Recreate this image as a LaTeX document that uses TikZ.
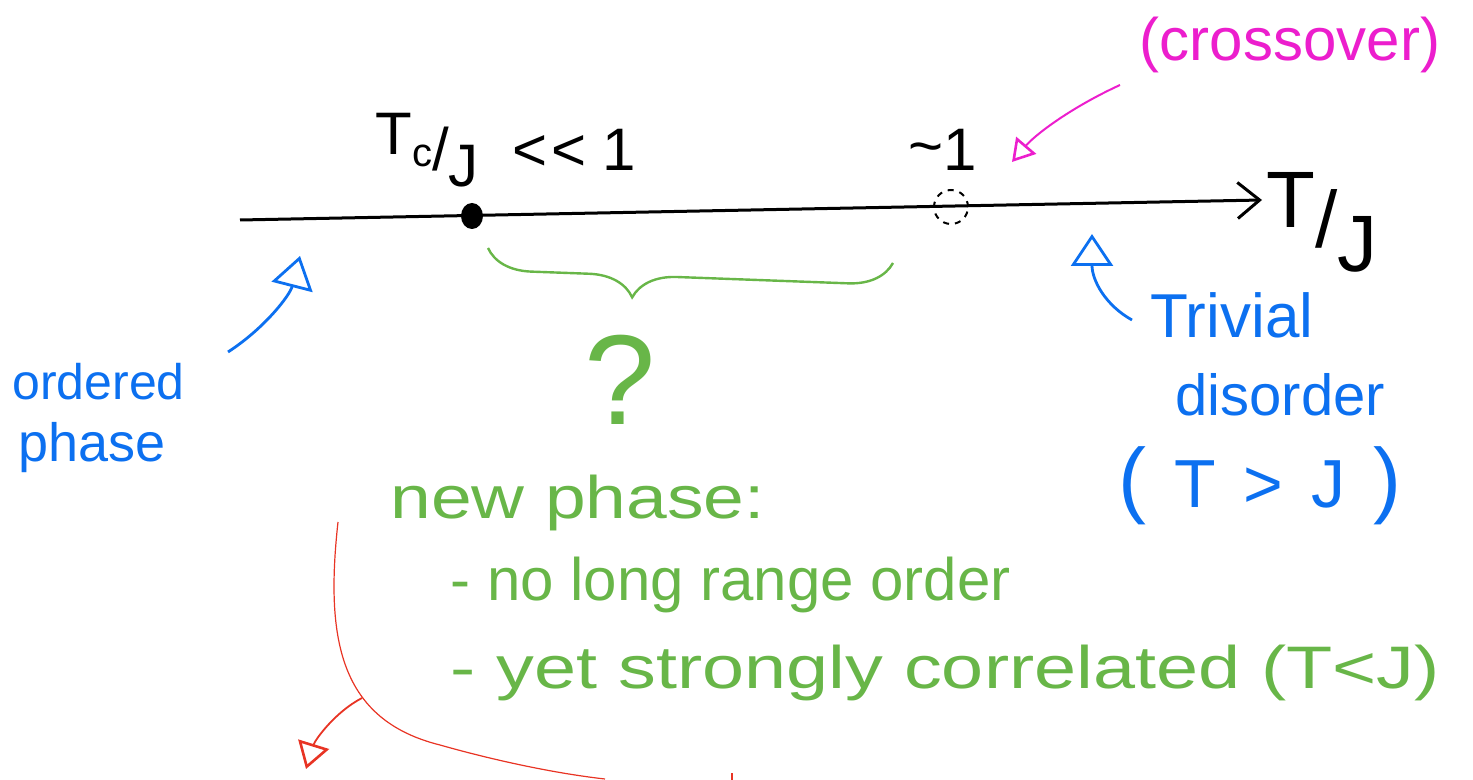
\documentclass[tikz,border=0pt]{standalone}
\usepackage{fontspec}
\setmainfont{Liberation Sans}
\usetikzlibrary{arrows.meta,decorations.pathreplacing,shapes.geometric}
\definecolor{penblue}{RGB}{12,112,240}
\definecolor{pengreen}{RGB}{104,182,72}
\definecolor{penmagenta}{RGB}{236,30,205}
\definecolor{penred}{RGB}{232,52,36}
\tikzset{
  axisline/.style={line width=1.5pt, black, -{Straight Barb[length=11pt,width=18pt,line width=1.5pt]}},
  tcdot/.style={ellipse, fill=black, minimum width=11pt, minimum height=13pt, inner sep=0pt},
  crossdot/.style={circle, draw=black, dashed, line width=1pt, minimum size=17pt, inner sep=0pt},
  blacktext/.style={text=black, inner sep=0pt, font=\fontsize{30}{34}\selectfont},
  bluetext/.style={text=penblue, inner sep=0pt, anchor=base west},
  greentext/.style={text=pengreen, inner sep=0pt, anchor=base west, font=\fontsize{30}{34}\selectfont},
  magtext/.style={text=penmagenta, inner sep=0pt, font=\fontsize{30}{34}\selectfont},
  bluearrow/.style={penblue, line width=1.4pt, -{Triangle[open,length=16pt,width=21pt,line width=1.4pt]}},
  magarrow/.style={penmagenta, line width=1pt, -{Triangle[open,length=11pt,width=13pt,line width=1.3pt]}},
  redarrow/.style={penred, line width=0.9pt, -{Triangle[open,length=13pt,width=16pt,line width=1.3pt]}},
  redline/.style={penred, line width=0.6pt},
  bracestyle/.style={pengreen, line width=1.2pt, decorate, decoration={brace, mirror, amplitude=22pt, aspect=0.36}},
}
\begin{document}
\begin{tikzpicture}[x=0.5pt,y=-0.5pt]
\useasboundingbox (0,0) rectangle (1473,780);
% axis
\coordinate (axL) at (240,220);
\coordinate (axR) at (1262,200);
\draw[axisline] (axL) -- (axR);
\node[tcdot] (tc) at (472,216) {};
\node[crossdot] (cross) at (951,207) {};
\node[blacktext] (tclabel) at (506,150) {\raisebox{8pt}{T}\raisebox{2pt}{\fontsize{20}{20}\selectfont c}/\raisebox{-8pt}{J}\ \ \textless\kern2pt\textless\ 1};
\node[blacktext] (onelabel) at (943,150) {\raisebox{2pt}{\textasciitilde}1};
\node[blacktext, font=\fontsize{40}{44}\selectfont] (tjlabel) at (1322,222) {\raisebox{10pt}{T}/\raisebox{-12pt}{J}};
% crossover
\node[magtext] (crossover) at (1290,45) {(crossover)};
\coordinate (mstart) at (1120,85);
\coordinate (mend) at (1012,162);
\draw[magarrow] (mstart) .. controls (1070,108) and (1035,135) .. (mend);
% brace and question mark
\coordinate (brL) at (488,248);
\coordinate (brR) at (893,263);
\draw[bracestyle] (brL) -- (brR);
\node[text=pengreen, inner sep=0pt, font=\fontsize{64}{68}\selectfont] (qmark) at (620,380) {?};
% ordered phase
\node[bluetext, font=\fontsize{25}{28}\selectfont] (ordered) at (12,400) {ordered};
\node[bluetext, font=\fontsize{27}{30}\selectfont] (phase) at (18,462) {phase};
\coordinate (oaS) at (228,352);
\coordinate (oaE) at (300,256);
\draw[bluearrow] (oaS) .. controls (265,328) and (290,295) .. (oaE);
% trivial disorder
\node[bluetext, font=\fontsize{31}{34}\selectfont] (trivial) at (1150,338) {Trivial};
\node[bluetext, font=\fontsize{29}{32}\selectfont] (disorder) at (1175,416) {disorder};
\node[bluetext, font=\fontsize{34}{36}\selectfont] (tgj) at (1118,508) {{\fontsize{42}{42}\selectfont(}\hspace{14pt}T\hspace{14pt}>\hspace{14pt}J\hspace{14pt}{\fontsize{42}{42}\selectfont)}};
\coordinate (taS) at (1132,320);
\coordinate (taE) at (1092,234);
\draw[bluearrow] (taS) .. controls (1105,305) and (1092,280) .. (taE);
% new phase
\node[greentext, xscale=1.22] (newphase) at (390,518) {new phase:};
\node[greentext] (noorder) at (450,600) {- no long range order};
\node[greentext, xscale=1.26] (correlated) at (450,688) {- yet strongly correlated (T<J)};
% red curve
\coordinate (rS) at (338,522);
\coordinate (rE) at (605,779);
\draw[redline] (rS) .. controls (325,640) and (340,720) .. (440,745) .. controls (500,762) and (560,774) .. (rE);
\coordinate (rtick) at (732,773);
\draw[redline, line width=1pt] (rtick) -- ++(0,8);
\coordinate (raS) at (362,698);
\coordinate (raE) at (306,769);
\draw[redarrow] (raS) .. controls (335,712) and (315,740) .. (raE);
\end{tikzpicture}
\end{document}
